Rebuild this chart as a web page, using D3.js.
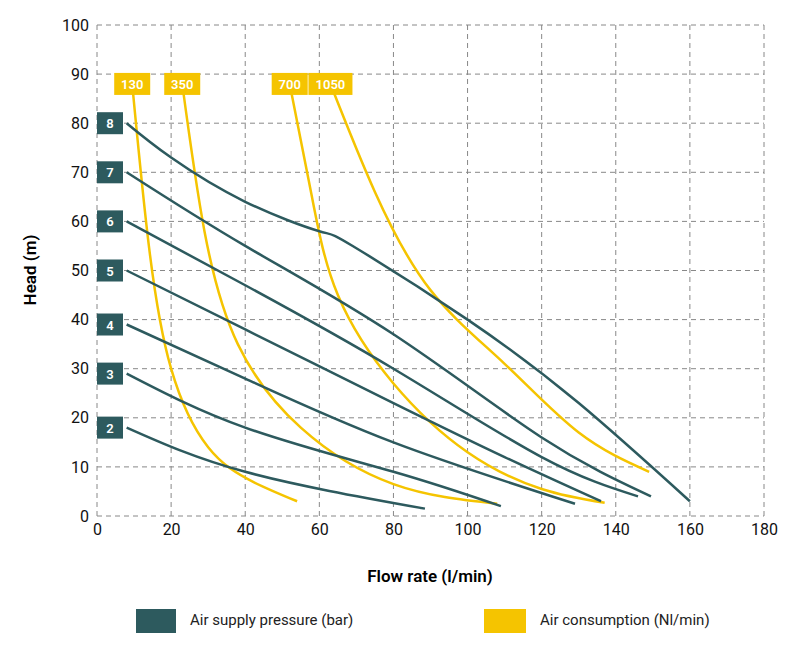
<!DOCTYPE html><html><head><meta charset="utf-8">
<script src="https://cdn.jsdelivr.net/npm/d3@7"></script>
<style>body{margin:0;background:#fff}text{font-family:Roboto,sans-serif}</style></head><body>
<svg id="c" width="800" height="650"></svg>
<script>
const xTicks=[0,20,40,60,80,100,120,140,160,180];
const yTicks=[0,10,20,30,40,50,60,70,80,90,100];
const pressureLabels=["8","7","6","5","4","3","2"];
const pressureCurves=[
[[8,80],[20,73],[40,64],[60,58],[69,55],[100,40],[130,23],[160,3]],
[[8,70],[40,55],[80,37],[120,16],[149.5,4]],
[[8,60],[40,47],[80,30],[120,12],[146,4]],
[[8,50],[40,38],[80,23],[110,12],[136,3]],
[[8,39],[40,28],[80,15],[129,2.5]],
[[8,29],[40,18],[80,9],[109,2]],
[[8,18],[40,9],[88.5,1.5]]];
const airLabels=["130","350","700","1050"];
const airCurves=[
[[9.5,88],[14,55],[20,30],[30,14],[42,7],[54,3]],
[[23,88],[29,58],[38,35],[55,18],[80,6.5],[108,2.5]],
[[52,88],[58,65],[65,45],[80,27],[100,13],[120,5.5],[137,2.7]],
[[63,88],[75,66],[90,46],[110,31],[130,17],[149,9]]];
const dark="#2d5a5e",yel="#f5c400";
const svg=d3.select("#c");
const x=d3.scaleLinear().domain([0,180]).range([97,764]);
const y=d3.scaleLinear().domain([0,100]).range([516,25]);
const g=svg.append("g");
xTicks.forEach(t=>g.append("line").attr("x1",x(t)).attr("x2",x(t)).attr("y1",y(0)).attr("y2",y(100)).attr("stroke","#888").attr("stroke-dasharray","5,4"));
yTicks.forEach(t=>g.append("line").attr("x1",x(0)).attr("x2",x(180)).attr("y1",y(t)).attr("y2",y(t)).attr("stroke","#888").attr("stroke-dasharray","5,4"));
const xa=svg.append("g").attr("transform",`translate(0,${y(0)})`).call(d3.axisBottom(x).tickValues(xTicks).tickSize(0).tickPadding(8));
const ya=svg.append("g").attr("transform",`translate(${x(0)},0)`).call(d3.axisLeft(y).tickValues(yTicks).tickSize(0).tickPadding(8));
[xa,ya].forEach(a=>{a.select(".domain").remove();a.selectAll("text").attr("font-size",16).attr("fill","#111")});
svg.append("text").attr("x",430).attr("y",582).attr("text-anchor","middle").attr("font-size",17).attr("font-weight",600).text("Flow rate (l/min)");
svg.append("text").attr("transform","translate(36,270) rotate(-90)").attr("text-anchor","middle").attr("font-size",17).attr("font-weight",600).text("Head (m)");
const line=d3.line().x(d=>x(d[0])).y(d=>y(d[1])).curve(d3.curveNatural);
airCurves.forEach(c=>svg.append("path").attr("d",line(c)).attr("fill","none").attr("stroke",yel).attr("stroke-width",2.5));
pressureCurves.forEach(c=>svg.append("path").attr("d",line(c)).attr("fill","none").attr("stroke",dark).attr("stroke-width",2.5));
pressureCurves.forEach((c,i)=>{const yy=y(c[0][1]);
svg.append("rect").attr("x",97).attr("y",yy-11).attr("width",26).attr("height",22).attr("fill",dark);
svg.append("text").attr("x",110).attr("y",yy+5).attr("text-anchor","middle").attr("fill","#fff").attr("font-size",13).attr("font-weight",600).text(pressureLabels[i]);});
airCurves.forEach((c,i)=>{const xx=x(c[0][0]),yy=y(c[0][1]);const w=airLabels[i].length*8+12;
svg.append("rect").attr("x",xx-w/2).attr("y",yy-11).attr("width",w).attr("height",22).attr("fill",yel);
svg.append("text").attr("x",xx).attr("y",yy+5).attr("text-anchor","middle").attr("fill","#fff").attr("font-size",13).attr("font-weight",600).text(airLabels[i]);});
svg.append("rect").attr("x",136).attr("y",609).attr("width",40).attr("height",24).attr("fill",dark);
svg.append("text").attr("x",190).attr("y",625).attr("font-size",15).attr("fill","#222").text("Air supply pressure (bar)");
svg.append("rect").attr("x",484).attr("y",609).attr("width",42).attr("height",24).attr("fill",yel);
svg.append("text").attr("x",540).attr("y",625).attr("font-size",15).attr("fill","#222").text("Air consumption (Nl/min)");
</script></body></html>
